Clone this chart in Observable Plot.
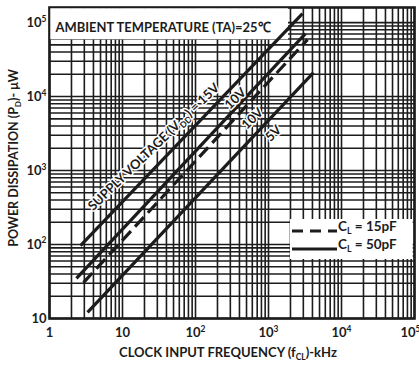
<!DOCTYPE html>
<html><head><meta charset="utf-8">
<script src="https://cdn.jsdelivr.net/npm/d3@7"></script>
<script src="https://cdn.jsdelivr.net/npm/@observablehq/plot@0.6"></script>
<style>
body{margin:0;background:#fff}
#chart svg{font-family:Lato,"Open Sans",sans-serif;display:block}
</style>
</head><body><div id="chart"></div>
<script>
// ---- data ----
const series      = ["15V", "10V (CL=50pF)", "10V (CL=15pF)", "5V"];
const freqStart   = [2.66, 2.34, 2.92, 3.32];        // kHz
const freqEnd     = [2920, 3210, 3420, 4130];        // kHz
const powerStart  = [96.8, 34.8, 30.6, 12.1];        // µW
const powerEnd    = [132000, 71000, 58900, 21100];   // µW
const isDashed    = [false, false, true, false];

const lineLabels  = ["SUPPLY VOLTAGE (V_{DD}) = 15V", "10V", "10V", "5V"];
const labelFreq   = [26.8, 353, 604, 1170];
const labelPower  = [2080, 9400, 5050, 3160];

const xTicks      = [1, 10, 100, 1000, 10000, 100000];
const xTickLabels = ["1", "10", "10^{2}", "10^{3}", "10^{4}", "10^{5}"];
const yTicks      = [10, 100, 1000, 10000, 100000];
const yTickLabels = ["10", "10^{2}", "10^{3}", "10^{4}", "10^{5}"];

const titleText   = "AMBIENT TEMPERATURE (TA)=25℃";
const xLabel      = "CLOCK INPUT FREQUENCY (f_{CL})-kHz";
const yLabel      = "POWER DISSIPATION (P_{D})- μW";
const legendNames = ["C_{L} = 15pF", "C_{L} = 50pF"];

// ---- build ----
const segs = series.map((s, i) => ({s, x1: freqStart[i], x2: freqEnd[i], y1: powerStart[i], y2: powerEnd[i], dashed: isDashed[i]}));
const labels = lineLabels.map((t, i) => ({t, x: labelFreq[i], y: labelPower[i]}));

const W = 419, H = 365;
const mL = 49, mR = 5, mT = 7, mB = 47;
const xDomain = [1, 1e5], yDomain = [10, 1.6e5];
const gridX = d3.scaleLog().domain(xDomain).ticks();
const gridY = d3.scaleLog().domain(yDomain).ticks();
const ink = "#1c1c1c";

const plot = Plot.plot({
  width: W, height: H,
  marginLeft: mL, marginRight: mR, marginTop: mT, marginBottom: mB,
  x: {type: "log", domain: xDomain},
  y: {type: "log", domain: yDomain},
  style: {fontFamily: "Lato, 'Open Sans', sans-serif", color: ink, background: "white"},
  marks: [
    Plot.ruleX(gridX, {stroke: ink, strokeWidth: 1.6, strokeOpacity: 1}),
    Plot.ruleY(gridY, {stroke: ink, strokeWidth: 1.6, strokeOpacity: 1}),
    Plot.frame({stroke: ink, strokeWidth: 2.6}),
    Plot.axisX({ticks: xTicks, tickFormat: d => xTickLabels[xTicks.indexOf(d)], tickSize: 0, tickPadding: 9, label: null, fontSize: 13, fontWeight: "bold"}),
    Plot.axisY({ticks: yTicks, tickFormat: d => yTickLabels[yTicks.indexOf(d)], tickSize: 0, tickPadding: 3, label: null, fontSize: 13, fontWeight: "bold"}),
    Plot.link(segs.filter(d => !d.dashed), {x1: "x1", y1: "y1", x2: "x2", y2: "y2", stroke: ink, strokeWidth: 3.2}),
    Plot.link(segs.filter(d => d.dashed), {x1: "x1", y1: "y1", x2: "x2", y2: "y2", stroke: ink, strokeWidth: 3.2, strokeDasharray: "13,6"}),
    Plot.text(labels, {x: "x", y: "y", text: "t", rotate: -44, fontSize: 13, fontWeight: "bold", fill: ink, stroke: "white", strokeWidth: 3}),
    Plot.text([titleText], {frameAnchor: "top-left", dx: 6, dy: 20, textAnchor: "start", lineAnchor: "middle", fontSize: 14, fontWeight: "bold", fill: ink})
  ]
});
document.getElementById("chart").appendChild(plot);
const svg = d3.select(plot);

// subscript / superscript helper
function richText(el) {
  const s = el.textContent;
  if (!/[_^]\{/.test(s)) return;
  const fs = parseFloat(getComputedStyle(el).fontSize) || 13;
  el.textContent = "";
  const parts = s.split(/([_^]\{[^}]*\})/).filter(p => p.length);
  let shift = 0;
  for (const p of parts) {
    const ts = document.createElementNS("http://www.w3.org/2000/svg", "tspan");
    if (p.startsWith("_{") || p.startsWith("^{")) {
      const off = p[0] === "_" ? fs * 0.25 : -fs * 0.4;
      ts.setAttribute("dy", off - shift);
      shift = off;
      ts.setAttribute("font-size", fs * 0.65);
      ts.textContent = p.slice(2, -1);
    } else {
      ts.setAttribute("dy", -shift);
      shift = 0;
      ts.textContent = p;
    }
    el.appendChild(ts);
  }
}

// white title box behind the title, above the grid, below the curves
const titleEl = Array.from(plot.querySelectorAll("text")).find(t => t.textContent.includes("AMBIENT"));
titleEl.setAttribute("textLength", 215);
titleEl.setAttribute("lengthAdjust", "spacingAndGlyphs");
const linkG = plot.querySelector('g[aria-label="link"]');
const box = document.createElementNS("http://www.w3.org/2000/svg", "rect");
box.setAttribute("x", mL + 1.3); box.setAttribute("y", mT + 1.3);
box.setAttribute("width", 288 - mL - 1.3);
box.setAttribute("height", 31);
box.setAttribute("fill", "white");
linkG.parentNode.insertBefore(box, linkG);

// keep the last x tick label inside the picture
const xTickTexts = plot.querySelectorAll('g[aria-label="x-axis tick label"] text');
if (xTickTexts.length) xTickTexts[xTickTexts.length - 1].setAttribute("dx", -4);

// axis titles
svg.append("text").attr("x", 228).attr("y", 357).attr("text-anchor", "middle")
  .attr("font-size", 13).attr("font-weight", "bold").attr("fill", ink).text(xLabel);
svg.append("text").attr("transform", "translate(18,158) rotate(-90)").attr("text-anchor", "middle")
  .attr("font-size", 12.5).attr("font-weight", "bold").attr("fill", ink).text(yLabel);

// legend (bottom-right, inside the frame)
const lg = svg.append("g").attr("text-anchor", "start");
const lx = 290, ly = 219;
lg.append("rect").attr("x", lx).attr("y", ly).attr("width", W - mR - 1.3 - lx).attr("height", 40).attr("fill", "white");
lg.append("line").attr("x1", lx + 2).attr("x2", lx + 47).attr("y1", ly + 12).attr("y2", ly + 12)
  .attr("stroke", ink).attr("stroke-width", 3).attr("stroke-dasharray", "11,7");
lg.append("line").attr("x1", lx + 2).attr("x2", lx + 47).attr("y1", ly + 30).attr("y2", ly + 30)
  .attr("stroke", ink).attr("stroke-width", 3);
legendNames.forEach((n, i) => {
  lg.append("text").attr("x", lx + 48).attr("y", ly + 12 + i * 18).attr("dy", "0.35em")
    .attr("font-size", 13.5).attr("font-weight", "bold").attr("fill", ink).text(n);
});

plot.querySelectorAll("text").forEach(richText);
</script>
</body></html>
